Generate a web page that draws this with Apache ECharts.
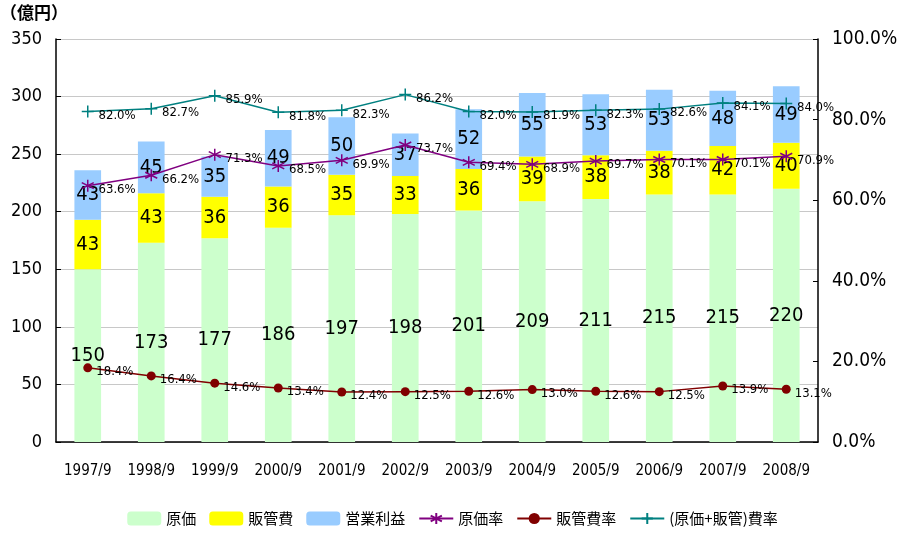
<!DOCTYPE html>
<html><head><meta charset="utf-8">
<script src="https://cdn.jsdelivr.net/npm/echarts@6/dist/echarts.min.js"></script>
<style>html,body{margin:0;padding:0;background:#fff}#c{width:905px;height:533px}</style>
</head><body><div id="c"></div>
<script>
const categories = ['1997/9','1998/9','1999/9','2000/9','2001/9','2002/9','2003/9','2004/9','2005/9','2006/9','2007/9','2008/9'];
const genka = [150,173,177,186,197,198,201,209,211,215,215,220];
const hankan = [43,43,36,36,35,33,36,39,38,38,42,40];
const eigyo = [43,45,35,49,50,37,52,55,53,53,48,49];
const genkaRate = [63.6,66.2,71.3,68.5,69.9,73.7,69.4,68.9,69.7,70.1,70.1,70.9];
const hankanRate = [18.4,16.4,14.6,13.4,12.4,12.5,12.6,13.0,12.6,12.5,13.9,13.1];
const totalRate = [82.0,82.7,85.9,81.8,82.3,86.2,82.0,81.9,82.3,82.6,84.1,84.0];

const NUM = '"DejaVu Sans Condensed","Liberation Sans Narrow","DejaVu Sans",sans-serif';
const JP = '"Noto Sans CJK JP",sans-serif';

const barLabel = {show:true, position:'inside', color:'#000', fontSize:20, fontFamily:NUM, textBorderWidth:0};
const lineLabel = {show:true, position:'right', distance:4, offset:[0,4], color:'#000', fontSize:13, fontFamily:NUM,
  formatter: p => p.value.toFixed(1) + '%'};

const chart = echarts.init(document.getElementById('c'));
chart.setOption({
  animation:false,
  backgroundColor:'#fff',
  graphic:[{type:'text', left:0, top:4, style:{text:'（億円）', font:'bold 17px "Noto Sans CJK JP"', fill:'#000'}}],
  grid:{left:56, right:87, top:39, bottom:91},
  legend:{bottom:2, left:'center', itemWidth:34, itemHeight:14, itemGap:13,
    textStyle:{fontFamily:JP, fontSize:15, color:'#000'},
    data:['原価','販管費','営業利益','原価率','販管費率','(原価+販管)費率']},
  xAxis:{type:'category', data:categories,
    axisLine:{lineStyle:{color:'#000', width:1.5}},
    axisTick:{inside:true, length:5, lineStyle:{color:'#000'}},
    axisLabel:{color:'#000', fontSize:15, fontFamily:NUM, margin:22, interval:0}},
  yAxis:[
    {type:'value', min:0, max:350, interval:50,
     axisLine:{show:true, lineStyle:{color:'#000', width:1.5}},
     axisTick:{show:true, inside:true, length:5, lineStyle:{color:'#000'}},
     axisLabel:{color:'#000', fontSize:18, fontFamily:NUM, margin:14},
     splitLine:{lineStyle:{color:'#c8c8c8', width:1}}},
    {type:'value', min:0, max:100, interval:20, position:'right',
     axisLine:{show:true, lineStyle:{color:'#000', width:1.5}},
     axisTick:{show:true, inside:true, length:5, lineStyle:{color:'#000'}},
     axisLabel:{color:'#000', fontSize:19, fontFamily:NUM, margin:14, formatter: v => v.toFixed(1)+'%'},
     splitLine:{show:false}}
  ],
  series:[
    {name:'原価', type:'bar', stack:'a', data:genka, barWidth:'42%', itemStyle:{color:'#CCFFCC'}, label:barLabel},
    {name:'販管費', type:'bar', stack:'a', data:hankan, itemStyle:{color:'#FFFF00'}, label:barLabel},
    {name:'営業利益', type:'bar', stack:'a', data:eigyo, itemStyle:{color:'#99CCFF'}, label:barLabel},
    {name:'原価率', type:'line', yAxisIndex:1, data:genkaRate,
     symbol:'path://M0,-6L0,6M-5.2,-3L5.2,3M-5.2,3L5.2,-3', symbolSize:12,
     itemStyle:{color:'#800080', borderColor:'#800080', borderWidth:1.5},
     lineStyle:{color:'#800080', width:1.5}, label:lineLabel},
    {name:'販管費率', type:'line', yAxisIndex:1, data:hankanRate,
     symbol:'circle', symbolSize:9,
     itemStyle:{color:'#800000', borderColor:'#800000', borderWidth:0},
     lineStyle:{color:'#800000', width:1.5}, label:lineLabel},
    {name:'(原価+販管)費率', type:'line', yAxisIndex:1, data:totalRate,
     symbol:'path://M0,-6L0,6M-6,0L6,0', symbolSize:12,
     itemStyle:{color:'#008080', borderColor:'#008080', borderWidth:1.5},
     lineStyle:{color:'#008080', width:1.5}, label:lineLabel}
  ]
});
</script></body></html>
